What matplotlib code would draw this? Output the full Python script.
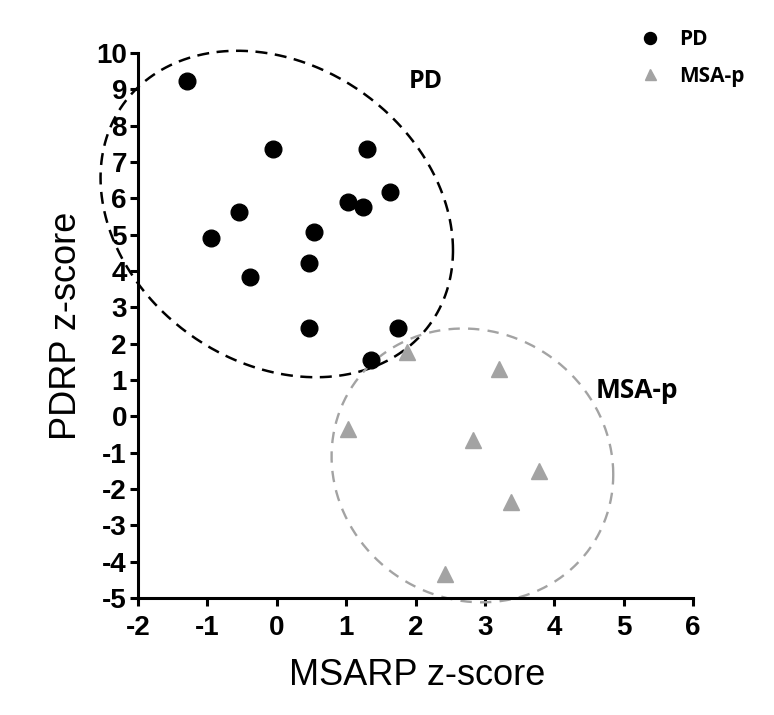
#!/usr/bin/env python3
# PDRP vs MSARP z-score scatter, PD vs MSA-p groups with dashed ellipses

import numpy as np
import matplotlib.pyplot as plt

pd_x = [-1.29, -0.06, 1.30, 1.63, 1.03, 1.24, -0.54, -0.95, 0.53, 0.47, -0.39, 0.47, 1.75, 1.36]
pd_y = [9.24, 7.37, 7.37, 6.17, 5.89, 5.77, 5.63, 4.91, 5.08, 4.21, 3.84, 2.43, 2.43, 1.54]

msa_x = [1.87, 3.21, 1.03, 2.83, 3.78, 3.38, 2.42]
msa_y = [1.77, 1.31, -0.34, -0.66, -1.51, -2.36, -4.35]

# group ellipses: centre, half width, tilt term, half height term
pd_ell = [0.0, 5.57, 2.54, -1.0, 4.38]
msa_ell = [2.82, -1.35, 2.03, -0.25, 3.76]

x_ticks = [-2, -1, 0, 1, 2, 3, 4, 5, 6]
y_ticks = list(range(-5, 11))

tick_font = "Liberation Sans"
note_font = "Open Sans"
gray = "#a3a3a3"

fig = plt.figure(figsize=(7.74, 7.15), dpi=100)
ax = fig.add_axes([0.1783, 0.1636, 0.7171, 0.7622])


def ellipse(params):
    cx, cy, a, p, q = params
    t = np.linspace(0, 2 * np.pi, 400)
    return cx + a * np.cos(t), cy + p * np.cos(t) + q * np.sin(t)


ex, ey = ellipse(pd_ell)
ax.plot(ex, ey, color="black", lw=1.8, ls=(0, (4.8, 3)), clip_on=False, zorder=2)
ex, ey = ellipse(msa_ell)
ax.plot(ex, ey, color=gray, lw=1.7, ls=(0, (4.8, 3.5)), clip_on=False, zorder=2)

ax.plot(pd_x, pd_y, "o", color="black", ms=12, ls="none", label="PD", zorder=3)
ax.plot(msa_x, msa_y, "^", color=gray, ms=11, ls="none", label="MSA-p", zorder=3)

ax.set_xlim(-2, 6)
ax.set_ylim(-5, 10)
ax.set_xticks(x_ticks)
ax.set_yticks(y_ticks)
ax.set_xticklabels([str(v) for v in x_ticks], fontfamily=tick_font, fontweight="bold", fontsize=20)
ax.set_yticklabels([str(v) for v in y_ticks], fontfamily=tick_font, fontweight="bold", fontsize=20)

for s in ["top", "right"]:
    ax.spines[s].set_visible(False)
for s in ["left", "bottom"]:
    ax.spines[s].set_linewidth(2.2)
ax.tick_params(axis="both", direction="out", length=6, width=2.2)
ax.tick_params(axis="x", pad=6)
ax.tick_params(axis="y", pad=2)

ax.set_xlabel("MSARP z-score", fontfamily=tick_font, fontsize=26, va="center")
ax.set_ylabel("PDRP z-score", fontfamily=tick_font, fontsize=26, va="center")
ax.xaxis.set_label_coords(0.5036, -0.1413)
ax.yaxis.set_label_coords(-0.128, 0.5)

ax.text(2.15, 9.23, "PD", fontfamily=note_font, fontweight="bold", fontsize=18,
        ha="center", va="center")
ax.text(5.19, 0.72, "MSA-p", fontfamily=note_font, fontweight="bold", fontsize=19,
        ha="center", va="center")

leg = ax.legend(loc="upper left", bbox_to_anchor=(640 / 774, 1 - 29 / 715),
                bbox_transform=fig.transFigure, frameon=False, borderpad=0,
                borderaxespad=0, handlelength=1.0, handletextpad=0.86,
                labelspacing=0.75, markerscale=0.72,
                prop={"family": note_font, "weight": "bold", "size": 15})

fig.savefig("out.png", dpi=100)
